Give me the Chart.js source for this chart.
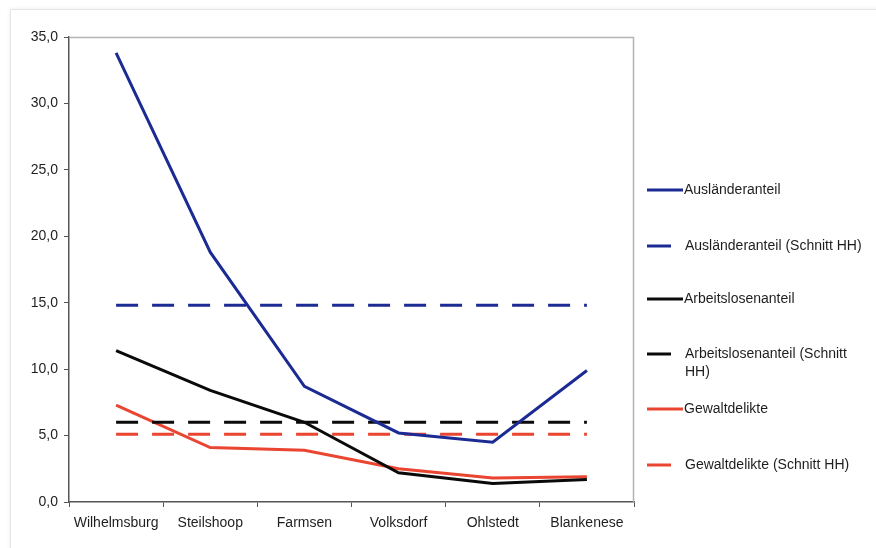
<!DOCTYPE html>
<html lang="de">
<head>
<meta charset="utf-8">
<title>Stadtteile im Vergleich</title>
<script src="https://cdn.jsdelivr.net/npm/chart.js@4.4.1/dist/chart.umd.min.js"></script>
<style>
  html, body { margin: 0; padding: 0; background: #fff; }
  body { width: 876px; height: 548px; position: relative; overflow: hidden; }
  .frame {
    position: absolute; left: 10px; top: 9px; width: 900px; height: 600px;
    border: 1px solid #e6e6e6;
    box-shadow: 0 0 4px rgba(0,0,0,0.08);
  }
  #wrap { position: absolute; left: 0; top: 0; width: 876px; height: 548px; }
</style>
</head>
<body>
<div class="frame"></div>
<div id="wrap"><canvas id="chart" width="876" height="548"></canvas></div>
<script>
// Stadtteile
const districts = ['Wilhelmsburg', 'Steilshoop', 'Farmsen', 'Volksdorf', 'Ohlstedt', 'Blankenese'];

// Anteile in Prozent je Stadtteil
const auslaenderanteil   = [33.8, 18.8, 8.7, 5.2, 4.5, 9.9];
const arbeitslosenanteil = [11.4, 8.4, 6.0, 2.2, 1.4, 1.7];
const gewaltdelikte      = [7.3, 4.1, 3.9, 2.5, 1.8, 1.9];

// Hamburger Durchschnitt
const auslaenderHH    = 14.8;
const arbeitslosenHH  = 6.0;
const gewaltHH        = 5.1;

// Achse
const yMin = 0, yMax = 35, yStep = 5;

const seriesLabels = [
  'Ausländeranteil',
  'Ausländeranteil (Schnitt HH)',
  'Arbeitslosenanteil',
  ['Arbeitslosenanteil (Schnitt', 'HH)'],
  'Gewaltdelikte',
  'Gewaltdelikte (Schnitt HH)'
];

const BLUE = '#1c2b94';
const BLACK = '#0a0a0a';
const RED = '#ea4530';
const FONT = '"Liberation Sans", Arial, Helvetica, sans-serif';
const DASH = [22, 14];

const flat = v => districts.map(() => v);

function lineSet(label, data, color, dashed) {
  return {
    label: Array.isArray(label) ? label.join(' ') : label,
    data,
    borderColor: color,
    backgroundColor: color,
    borderWidth: 3,
    borderDash: dashed ? DASH : [],
    pointRadius: 0,
    pointHoverRadius: 0,
    tension: 0,
    fill: false,
    legendDashed: dashed,
    legendText: label
  };
}

const datasets = [
  lineSet(seriesLabels[0], auslaenderanteil, BLUE, false),
  lineSet(seriesLabels[1], flat(auslaenderHH), BLUE, true),
  lineSet(seriesLabels[2], arbeitslosenanteil, BLACK, false),
  lineSet(seriesLabels[3], flat(arbeitslosenHH), BLACK, true),
  lineSet(seriesLabels[4], gewaltdelikte, RED, false),
  lineSet(seriesLabels[5], flat(gewaltHH), RED, true)
];

// Rahmen oben und rechts um die Zeichenfläche
const plotFrame = {
  id: 'plotFrame',
  beforeDatasetsDraw(chart) {
    const { ctx, chartArea: a } = chart;
    ctx.save();
    ctx.strokeStyle = '#b4b4b4';
    ctx.lineWidth = 1.5;
    ctx.beginPath();
    ctx.moveTo(a.left, a.top + 0.5);
    ctx.lineTo(a.right - 0.5, a.top + 0.5);
    ctx.lineTo(a.right - 0.5, a.bottom);
    ctx.stroke();
    ctx.restore();
  }
};

// Legende rechts neben der Zeichenfläche
const sideLegend = {
  id: 'sideLegend',
  afterDraw(chart) {
    const { ctx, chartArea: a } = chart;
    const x0 = a.right + 13;
    const rows = [190, 246, 299, 354, 409, 465];
    ctx.save();
    ctx.font = '14px ' + FONT;
    ctx.fillStyle = '#1e1e1e';
    ctx.textBaseline = 'middle';
    ctx.textAlign = 'left';
    chart.data.datasets.forEach((ds, i) => {
      const y = rows[i];
      const len = ds.legendDashed ? 24 : 36;
      ctx.strokeStyle = ds.borderColor;
      ctx.lineWidth = 3;
      ctx.beginPath();
      ctx.moveTo(x0, y);
      ctx.lineTo(x0 + len, y);
      ctx.stroke();
      const tx = ds.legendDashed ? x0 + 38 : x0 + 37;
      const lines = Array.isArray(ds.legendText) ? ds.legendText : [ds.legendText];
      lines.forEach((t, k) => ctx.fillText(t, tx, y + k * 18));
    });
    ctx.restore();
  }
};

new Chart(document.getElementById('chart'), {
  type: 'line',
  data: { labels: districts, datasets },
  plugins: [plotFrame, sideLegend],
  options: {
    responsive: false,
    animation: false,
    layout: { padding: { top: 37, right: 242, left: 0, bottom: 0 } },
    plugins: {
      legend: { display: false },
      tooltip: { enabled: false }
    },
    scales: {
      x: {
        type: 'category',
        offset: true,
        grid: {
          offset: true,
          drawOnChartArea: false,
          drawTicks: true,
          tickLength: 5,
          color: '#555',
          lineWidth: 1
        },
        border: { display: true, color: '#555', width: 1.5 },
        ticks: {
          color: '#1e1e1e',
          font: { family: FONT, size: 14 },
          padding: 8,
          maxRotation: 0,
          autoSkip: false
        },
        afterFit(scale) { scale.height = 46; }
      },
      y: {
        min: yMin,
        max: yMax,
        grid: {
          drawOnChartArea: false,
          drawTicks: true,
          tickLength: 5,
          color: '#555',
          lineWidth: 1
        },
        border: { display: true, color: '#555', width: 1.5 },
        ticks: {
          stepSize: yStep,
          color: '#1e1e1e',
          font: { family: FONT, size: 14 },
          padding: 6,
          callback: v => v.toFixed(1).replace('.', ',')
        },
        afterFit(scale) { scale.width = 69; }
      }
    }
  }
});
</script>
</body>
</html>
